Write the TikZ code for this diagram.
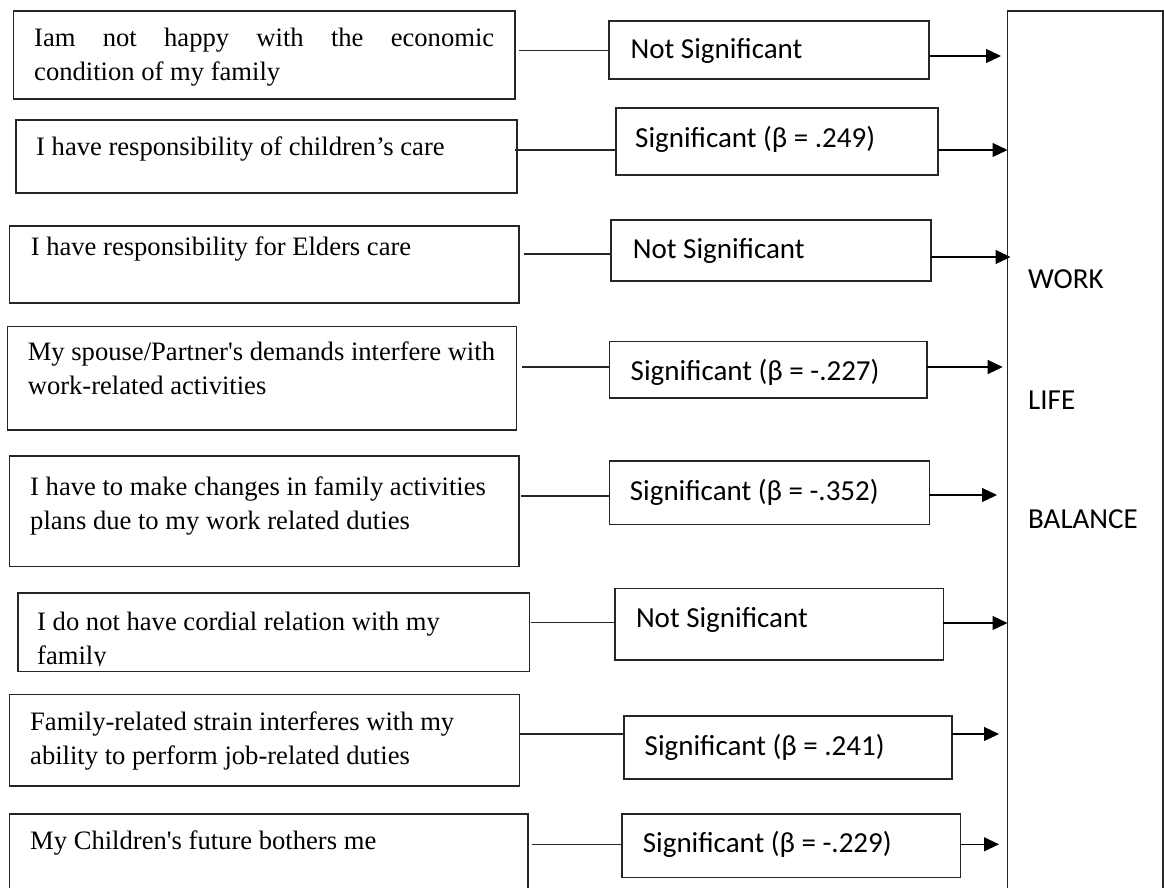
\documentclass[tikz,border=0pt]{standalone}
\usepackage{fontspec}
\newfontfamily\serifface{Liberation Serif}
\newfontfamily\calface{Carlito}
\usetikzlibrary{arrows.meta}
\begin{document}
\begin{tikzpicture}[x=1pt,y=-1pt,
  frame/.style={draw=black!85, line width=1.3pt, inner sep=0pt, outer sep=0pt, anchor=north west},
  itemtext/.style={inner sep=0pt, anchor=base west, font=\serifface\fontsize{26.6}{33.5}\selectfont},
  restext/.style={inner sep=0pt, anchor=base west, font=\calface\fontsize{29}{35}\selectfont},
  link/.style={draw=black!85, line width=1.2pt},
  arr/.style={draw=black, line width=1.2pt, -{Triangle[length=15pt,width=14pt]}}]
\useasboundingbox (0,0) rectangle (1164,888);
\clip (0,0) rectangle (1164,888);

% statement boxes
\node[frame, minimum width=501.5pt, minimum height=88pt]  (L1) at (13.5,11) {};
\node[frame, minimum width=501pt,   minimum height=73pt]  (L2) at (16,120) {};
\node[frame, minimum width=509.4pt, minimum height=77pt]  (L3) at (9.6,226) {};
\node[frame, minimum width=509pt,   minimum height=103.3pt] (L4) at (7.7,326.7) {};
\node[frame, minimum width=509.4pt, minimum height=110.7pt] (L5) at (9.6,456) {};
\node[frame, minimum width=511.3pt, minimum height=78.7pt] (L6) at (18,593) {};
\node[frame, minimum width=509.7pt, minimum height=91.7pt] (L7) at (9.6,694.3) {};
\node[frame, minimum width=518.4pt, minimum height=100pt] (L8) at (9.6,814) {};

% result boxes
\node[frame, minimum width=320pt,   minimum height=58pt]   (M1) at (609,21) {};
\node[frame, minimum width=322pt,   minimum height=67pt]   (M2) at (616,108) {};
\node[frame, minimum width=320pt,   minimum height=61pt]   (M3) at (611,220) {};
\node[frame, minimum width=317.5pt, minimum height=56.3pt] (M4) at (609.5,341.7) {};
\node[frame, minimum width=319.9pt, minimum height=63.3pt] (M5) at (609.5,461) {};
\node[frame, minimum width=328.4pt, minimum height=71.7pt] (M6) at (615,588.3) {};
\node[frame, minimum width=328pt,   minimum height=63pt]   (M7) at (624,716) {};
\node[frame, minimum width=338.4pt, minimum height=63.3pt] (M8) at (622,814) {};

% outcome box
\node[frame, minimum width=155.5pt, minimum height=900pt] (W) at (1007.5,11) {};

% statement texts
\node[itemtext] (TL1) at (34,47) {\begin{tabular}[t]{@{}l@{}}\makebox[460pt][s]{Iam not happy with the economic}\\condition of my family\end{tabular}};
\node[itemtext] (TL2) at (36,155.5) {I have responsibility of children’s care};
\node[itemtext] (TL3) at (30.6,255) {I have responsibility for Elders care};
\node[itemtext] (TL4) at (27.6,360.7) {\begin{tabular}[t]{@{}l@{}}My spouse/Partner\textquotesingle s demands interfere with\\work-related activities\end{tabular}};
\node[itemtext] (TL5) at (30,495.7) {\begin{tabular}[t]{@{}l@{}}I have to make changes in family activities\\plans due to my work related duties\end{tabular}};
\begin{scope}
  % the second line runs into the frame's lower edge and is cut there
  \clip (18,593) rectangle (529.3,665);
  \node[itemtext] (TL6) at (37,630.5) {\begin{tabular}[t]{@{}l@{}}I do not have cordial relation with my\\family\end{tabular}};
\end{scope}
\node[itemtext] (TL7) at (30,730.7) {\begin{tabular}[t]{@{}l@{}}Family-related strain interferes with my\\ability to perform job-related duties\end{tabular}};
\node[itemtext] (TL8) at (30,849) {My Children\textquotesingle s future bothers me};

% result texts
\node[restext] (TM1) at (630.5,58.5) {Not Significant};
\node[restext] (TM2) at (635,147) {Significant (β = .249)};
\node[restext] (TM3) at (632.7,258) {Not Significant};
\node[restext] (TM4) at (630.5,380) {Significant (β = -.227)};
\node[restext] (TM5) at (629.7,500) {Significant (β = -.352)};
\node[restext] (TM6) at (635.8,627) {Not Significant};
\node[restext] (TM7) at (644.5,755) {Significant (β = .241)};
\node[restext] (TM8) at (642.7,852) {Significant (β = -.229)};

% outcome label
\node[restext] (TW1) at (1028,288) {WORK};
\node[restext] (TW2) at (1028,409) {LIFE};
\node[restext] (TW3) at (1028,528) {BALANCE};

% statement -> result
\draw[link, shorten <=4pt]   (L1.east |- 0,50.5) -- (M1.west |- 0,50.5);
\draw[link, shorten <=-2pt]  (L2.east |- 0,150)  -- (M2.west |- 0,150);
\draw[link, shorten <=4.5pt] (L3.east |- 0,254)  -- (M3.west |- 0,254);
\draw[link, shorten <=5pt]   (L4.east |- 0,367)  -- (M4.west |- 0,367);
\draw[link, shorten <=2pt]   (L5.east |- 0,496)  -- (M5.west |- 0,496);
\draw[link, shorten <=2pt]   (L6.east |- 0,622.5) -- (M6.west |- 0,622.5);
\draw[link]                  (L7.east |- 0,734)  -- (M7.west |- 0,734);
\draw[link, shorten <=3.5pt] (L8.east |- 0,844.3) -- (M8.west |- 0,844.3);

% result -> outcome
\draw[arr, shorten >=6.5pt]  (M1.east |- 0,56)    -- (W.west |- 0,56);
\draw[arr]                   (M2.east |- 0,150)   -- (W.west |- 0,150);
\draw[arr, shorten >=-3pt]   (M3.east |- 0,257)   -- (W.west |- 0,257);
\draw[arr, shorten >=4.8pt]  (M4.east |- 0,367)   -- (W.west |- 0,367);
\draw[arr, shorten >=10.5pt] (M5.east |- 0,495)   -- (W.west |- 0,495);
\draw[arr]                   (M6.east |- 0,623)   -- (W.west |- 0,623);
\draw[arr, shorten >=8.5pt]  (M7.east |- 0,734)   -- (W.west |- 0,734);
\draw[arr, shorten >=8.5pt]  (M8.east |- 0,844.3) -- (W.west |- 0,844.3);
\end{tikzpicture}
\end{document}
